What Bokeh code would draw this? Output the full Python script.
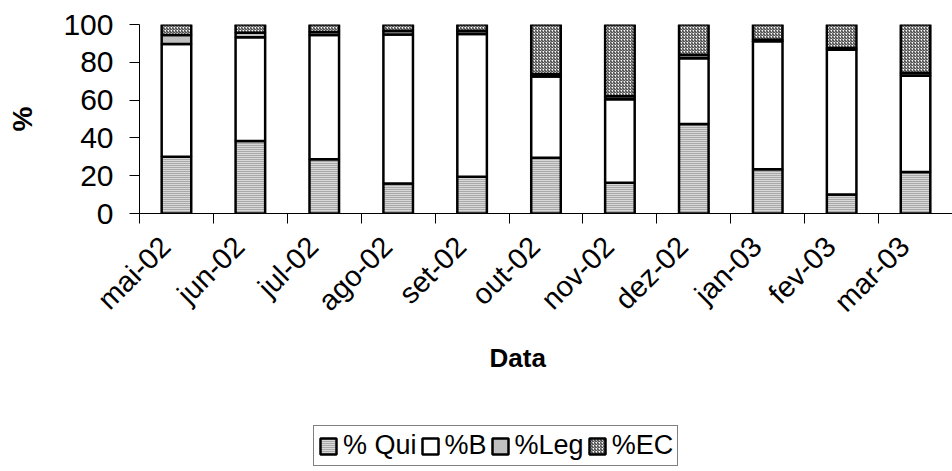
from math import pi
from bokeh.plotting import figure
from bokeh.layouts import column
from bokeh.models import ColumnDataSource, Range1d, FixedTicker, Legend, Title
from bokeh.embed import file_html
from bokeh.resources import INLINE

categories = ["mai-02", "jun-02", "jul-02", "ago-02", "set-02", "out-02",
              "nov-02", "dez-02", "jan-03", "fev-03", "mar-03"]
qui = [30.0, 38.4, 28.7, 15.9, 19.4, 29.5, 16.3, 47.3, 23.4, 10.1, 21.9]
b = [59.7, 54.9, 65.8, 78.8, 75.6, 43.0, 44.2, 34.8, 67.7, 76.5, 51.0]
leg = [4.8, 2.3, 1.5, 1.8, 1.5, 1.3, 1.5, 1.8, 0.8, 1.0, 1.4]
ec = [5.5, 4.4, 4.0, 3.5, 3.5, 26.2, 38.0, 16.1, 8.1, 12.4, 25.7]
series_names = ["% Qui", "%B", "%Leg", "%EC"]
y_ticks = [0, 20, 40, 60, 80, 100]

xs = list(range(1, len(categories) + 1))
source = ColumnDataSource(dict(x=xs, qui=qui, b=b, leg=leg, ec=ec))

FONT = "Liberation Sans"
STYLE = dict(fill_color=["#d8d8d8", "#ffffff", "#c0c0c0", "#ffffff"],
             hatch_pattern=["horizontal_line", " ", " ", "right_diagonal_line"],
             hatch_color=["#7a7a7a", "#000000", "#000000", "#222222"],
             hatch_scale=[2, 2, 2, 3], hatch_weight=[1, 1, 1, 1],
             line_color="black", line_width=2.5)

p = figure(width=952, height=400, output_backend="svg", toolbar_location=None,
           x_range=Range1d(0.5, len(categories) + 0.5), y_range=Range1d(0, 100),
           min_border_left=139, min_border_right=0, min_border_top=24,
           min_border_bottom=187)
p.outline_line_color = None
p.xgrid.visible = False
p.ygrid.visible = False

rs = p.vbar_stack(["qui", "b", "leg", "ec"], x="x", width=0.4, source=source, **STYLE)

# axes
label_pos = [round(x - 0.15, 2) for x in xs]
xa = p.xaxis[0]
xa.ticker = FixedTicker(ticks=label_pos, minor_ticks=[i + 0.5 for i in range(len(categories) + 1)])
xa.major_label_overrides = {x: c for x, c in zip(label_pos, categories)}
xa.major_label_orientation = pi / 4
xa.major_tick_line_color = None
xa.minor_tick_out = 10
xa.minor_tick_in = 0
xa.minor_tick_line_color = "black"
xa.axis_line_color = "black"
xa.major_label_text_font = FONT
xa.major_label_text_font_size = "29px"
xa.major_label_text_color = "black"
xa.major_label_standoff = 18

ya = p.yaxis[0]
ya.ticker = FixedTicker(ticks=y_ticks)
ya.major_tick_out = 10
ya.major_tick_in = 0
ya.minor_tick_line_color = None
ya.axis_line_color = "black"
ya.major_tick_line_color = "black"
ya.major_label_text_font = FONT
ya.major_label_text_font_size = "30px"
ya.major_label_text_color = "black"
ya.major_label_standoff = 16
ya.axis_label = "%"
ya.axis_label_text_font = FONT
ya.axis_label_text_font_style = "bold"
ya.axis_label_text_font_size = "28px"
ya.axis_label_text_color = "black"
ya.axis_label_standoff = 22

xtitle = Title(text="Data", align="left", offset=350, standoff=16,
               text_font=FONT, text_font_style="bold", text_font_size="26px",
               text_color="black")
p.add_layout(xtitle, "below")

# legend strip underneath
lg = figure(width=952, height=71, output_backend="svg", toolbar_location=None,
            x_range=Range1d(0.5, len(categories) + 0.5), y_range=Range1d(0, 100),
            x_axis_location=None, y_axis_location=None, min_border=0)
lg.outline_line_color = None
lg.xgrid.visible = False
lg.ygrid.visible = False
lrs = lg.vbar_stack(["qui", "b", "leg", "ec"], x="x", width=0.4, source=source, **STYLE)
for r in lrs:
    r.visible = False

legend = Legend(items=[(n, [r]) for n, r in zip(series_names, lrs)],
                orientation="horizontal", location=(174, 5))
legend.label_text_font = FONT
legend.label_text_font_size = "27px"
legend.label_text_color = "black"
legend.glyph_width = 20
legend.glyph_height = 20
legend.label_standoff = 5
legend.spacing = 3
legend.padding = 4
legend.margin = 0
legend.border_line_color = "black"
legend.border_line_width = 1
legend.background_fill_color = "white"
lg.add_layout(legend, "center")

layout = column(p, lg, spacing=0)
open("out.html", "w").write(file_html(layout, INLINE))
